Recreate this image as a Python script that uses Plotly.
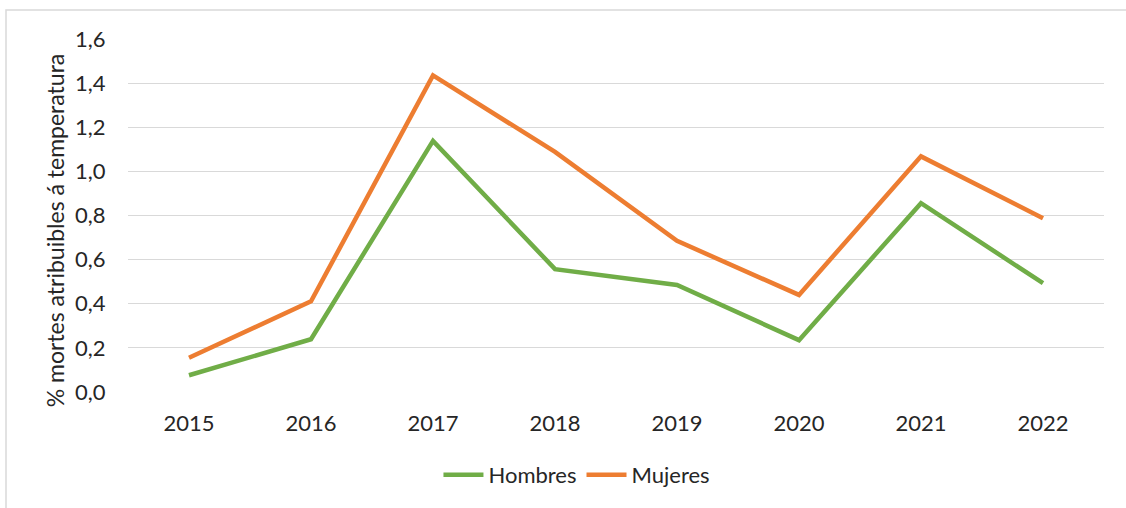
import plotly.graph_objects as go

years = ["2015", "2016", "2017", "2018", "2019", "2020", "2021", "2022"]
hombres = [0.076, 0.239, 1.138, 0.557, 0.485, 0.235, 0.856, 0.493]
mujeres = [0.155, 0.411, 1.435, 1.088, 0.685, 0.440, 1.068, 0.788]
y_ticks = [0.0, 0.2, 0.4, 0.6, 0.8, 1.0, 1.2, 1.4, 1.6]

FONT = "Lato"
TXT = "#262626"
FS = 22

fig = go.Figure()
fig.add_trace(go.Scatter(x=years, y=hombres, name="Hombres", mode="lines",
                         line=dict(color="#70AD47", width=4.5)))
fig.add_trace(go.Scatter(x=years, y=mujeres, name="Mujeres", mode="lines",
                         line=dict(color="#ED7D31", width=4.5)))

fig.update_layout(
    width=1126, height=508,
    margin=dict(l=128, r=22, t=39, b=116),
    paper_bgcolor="white", plot_bgcolor="white",
    separators=",.",
    font=dict(family=FONT, size=FS, color=TXT),
    showlegend=True,
    legend=dict(orientation="h", x=0.46, xanchor="center", y=-0.235, yanchor="middle",
                font=dict(size=FS, color=TXT), itemwidth=40),
    xaxis=dict(type="category", range=[-0.5, 7.5], showgrid=False, zeroline=False,
               showline=False, ticks="outside", ticklen=12, tickcolor="rgba(0,0,0,0)",
               tickfont=dict(size=FS, color=TXT)),
    yaxis=dict(range=[0, 1.6], tickvals=y_ticks, tickformat=".1f",
               showgrid=True, gridcolor="#D9D9D9", gridwidth=1.2,
               zeroline=False, showline=False,
               ticks="outside", ticklen=17, tickcolor="rgba(0,0,0,0)",
               tickfont=dict(size=FS, color=TXT)),
)

fig.add_annotation(text="% mortes atribuibles á temperatura", xref="paper", yref="paper",
                   x=-0.0745, y=0.459, textangle=-90, showarrow=False,
                   font=dict(size=23, color=TXT), xanchor="center", yanchor="middle")

# outer frame around the chart area
fig.add_shape(type="rect", xref="paper", yref="paper",
              x0=-0.125, x1=1.1, y0=-0.4, y1=1.0822,
              line=dict(color="#D9D9D9", width=1.5), fillcolor="rgba(0,0,0,0)", layer="below")

fig.write_html("out.html")
